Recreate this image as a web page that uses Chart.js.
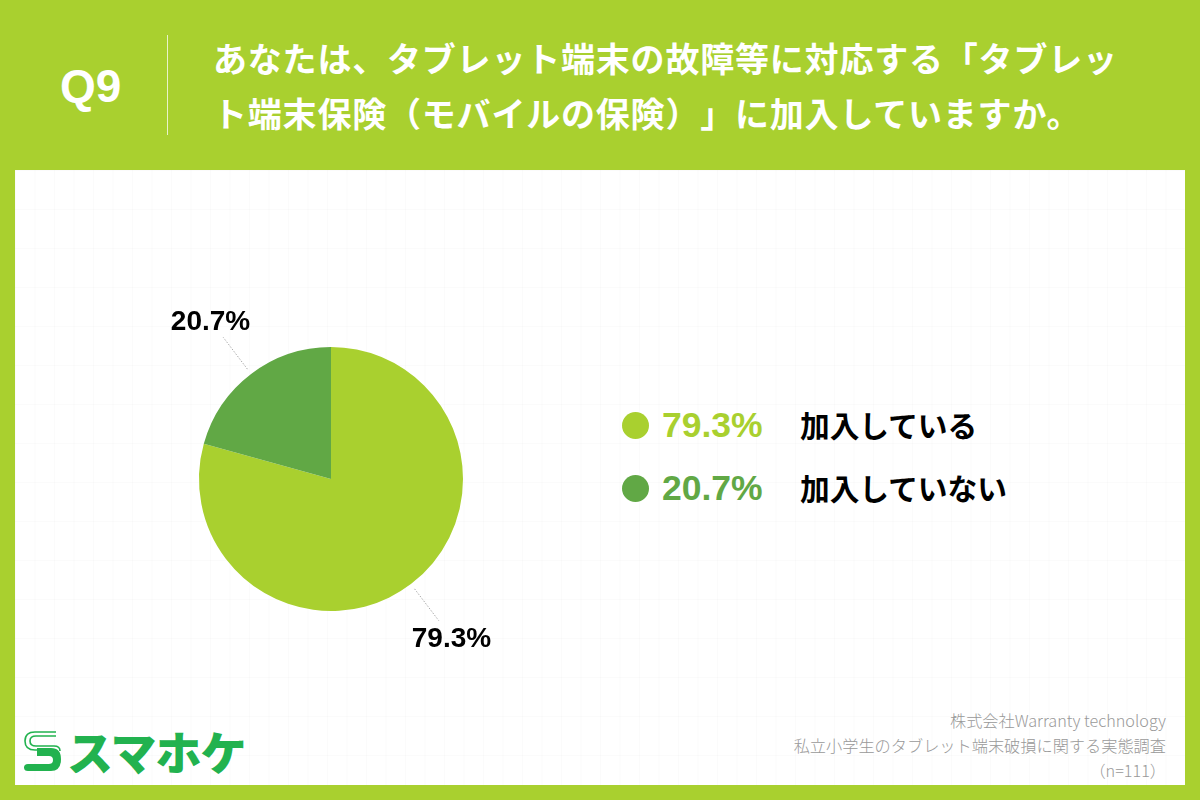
<!DOCTYPE html>
<html lang="ja">
<head>
<meta charset="utf-8">
<script src="https://cdn.jsdelivr.net/npm/chart.js@4"></script>
<style>
  html, body { margin: 0; padding: 0; }
  body { width: 1200px; height: 800px; background: #a9d02f; position: relative; overflow: hidden; font-family: "Noto Sans CJK JP", sans-serif; }
  #panel { position: absolute; left: 15px; top: 170px; width: 1170px; height: 615px; background-color: #fff;
    background-image: linear-gradient(rgba(0,0,0,.014) 1px, transparent 1px), linear-gradient(90deg, rgba(0,0,0,.014) 1px, transparent 1px);
    background-size: 19.5px 39px; }
  #q { position: absolute; left: 60px; top: 59px; color: #fff; font: bold 46px "Liberation Sans", sans-serif; }
  #sep { position: absolute; left: 167px; top: 35px; width: 1px; height: 100px; background: rgba(255,255,255,.75); }
  #title { position: absolute; left: 213px; top: 30px; width: 960px; color: #fff; font-weight: 700; font-size: 34px; line-height: 55px; letter-spacing: .8px; text-spacing-trim: space-all; font-feature-settings: "palt" 0; }
  #title div { white-space: nowrap; }
  #chart { position: absolute; left: 131px; top: 279px; width: 400px; height: 400px; }
  .row { position: absolute; left: 622px; height: 40px; white-space: nowrap; }
  .dot { position: absolute; left: 0; top: 6px; width: 27px; height: 27px; border-radius: 50%; }
  .pct { position: absolute; left: 40px; top: -1px; font: bold 35.5px/40px "Liberation Sans", sans-serif; }
  .name { position: absolute; left: 178px; top: -1px; color: #000; font-weight: 700; font-size: 29.7px; line-height: 40px; }
  #source { position: absolute; right: 34px; top: 708px; color: #999; font-size: 16.2px; font-weight: 300; line-height: 25px; text-align: right; white-space: nowrap; }
  #logo { position: absolute; left: 23px; top: 729px; }
  #logotext { position: absolute; left: 67px; top: 718px; color: #22b24f; font-weight: 900; font-size: 46px; line-height: 64px; letter-spacing: -1px; white-space: nowrap; }
</style>
</head>
<body>
<div id="panel"></div>
<div id="q"></div>
<div id="sep"></div>
<div id="title"></div>
<canvas id="chart" width="400" height="400"></canvas>
<div id="legendRows"></div>
<div id="source"></div>
<svg id="logo" width="40" height="46" viewBox="0 0 40 46">
  <path d="M33 3 H12 Q2 3 2 12 Q2 21 12 21 H30" fill="none" stroke="#22b24f" stroke-width="1.6"/>
  <path d="M33 7 H13 Q7 7 7 12 Q7 17 13 17 H31 Q37 17 37 22" fill="none" stroke="#22b24f" stroke-width="1.6"/>
  <path d="M14 19 H28 Q38 19 38 30 Q38 42 28 42 H5 Q1 42 1 38.5 Q1 35 5 35 H26 Q30 35 30 31 Q30 27 26 27 H14 Z" fill="#22b24f"/>
</svg>
<div id="logotext">スマホケ</div>

<script>
var categories = ['加入している', '加入していない'];
var values = [79.3, 20.7];
var colors = ['#a9d02f', '#61a845'];
var question = 'Q9';
var titleLines = ['あなたは、タブレット端末の故障等に対応する「タブレッ', 'ト端末保険（モバイルの保険）」に加入していますか。'];
var sourceLines = ['株式会社Warranty technology', '私立小学生のタブレット端末破損に関する実態調査', '（n=111）'];
var legendTops = [406, 469];

document.getElementById('q').textContent = question;
document.getElementById('title').innerHTML = titleLines.map(function (t) { return '<div>' + t + '</div>'; }).join('');
document.getElementById('source').innerHTML = sourceLines.map(function (t) { return '<div>' + t + '</div>'; }).join('');

// legend on the right, built from the same arrays
var rows = document.getElementById('legendRows');
categories.forEach(function (c, i) {
    var row = document.createElement('div');
    row.className = 'row';
    row.style.top = legendTops[i] + 'px';
    row.innerHTML = '<span class="dot" style="background:' + colors[i] + '"></span>' +
        '<span class="pct" style="color:' + colors[i] + '">' + values[i].toFixed(1) + '%</span>' +
        '<span class="name">' + c + '</span>';
    rows.appendChild(row);
});

// dotted leader lines and value labels outside the slices
var outerLabels = {
    id: 'outerLabels',
    afterDatasetsDraw: function (chart) {
        var ctx = chart.ctx;
        chart.getDatasetMeta(0).data.forEach(function (arc, i) {
            var mid = (arc.startAngle + arc.endAngle) / 2;
            var cos = Math.cos(mid), sin = Math.sin(mid);
            var r = arc.outerRadius;
            ctx.save();
            ctx.strokeStyle = '#aaa';
            ctx.lineWidth = 1;
            ctx.setLineDash([1.5, 1.5]);
            ctx.beginPath();
            ctx.moveTo(arc.x + cos * (r + 6), arc.y + sin * (r + 6));
            ctx.lineTo(arc.x + cos * (r + 46), arc.y + sin * (r + 46));
            ctx.stroke();
            ctx.setLineDash([]);
            ctx.fillStyle = '#000';
            ctx.font = 'bold 28px "Liberation Sans", sans-serif';
            ctx.textAlign = 'center';
            ctx.textBaseline = 'middle';
            ctx.fillText(values[i].toFixed(1) + '%', arc.x + cos * (r + 67), arc.y + sin * (r + 67) + 2);
            ctx.restore();
        });
    }
};

var ctx1 = document.getElementById('chart').getContext('2d');
var pieChart = new Chart(ctx1, {
    type: 'pie',
    data: {
        labels: categories,
        datasets: [{
            data: values,
            backgroundColor: colors,
            borderWidth: 0
        }]
    },
    options: {
        responsive: false,
        animation: false,
        layout: { padding: 68 },
        plugins: {
            legend: { display: false },
            tooltip: { enabled: false }
        }
    },
    plugins: [outerLabels]
});
</script>
</body>
</html>
